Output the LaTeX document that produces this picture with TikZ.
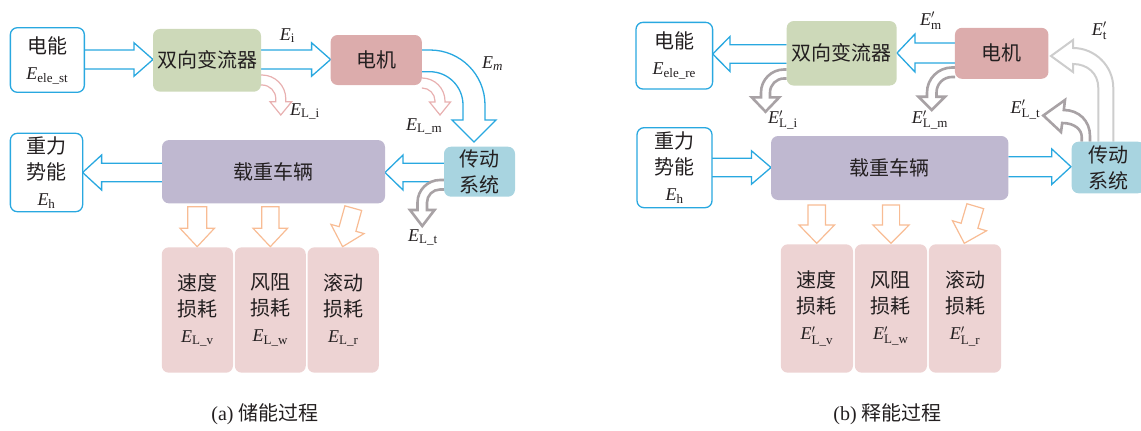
\documentclass[tikz,border=0pt]{standalone}
\usepackage{fontspec}
\setmainfont{Liberation Serif}
\newfontfamily\cjk{Noto Sans CJK SC}
\definecolor{bl}{RGB}{41,168,224}
\definecolor{grn}{RGB}{205,217,185}
\definecolor{mot}{RGB}{220,172,172}
\definecolor{veh}{RGB}{191,184,208}
\definecolor{trn}{RGB}{168,212,224}
\definecolor{los}{RGB}{237,211,211}
\definecolor{pk}{RGB}{232,176,176}
\definecolor{org}{RGB}{248,188,148}
\definecolor{gr}{RGB}{168,162,165}
\definecolor{lgr}{RGB}{205,205,205}
\definecolor{txt}{RGB}{35,31,32}
\newcommand\zh[1]{{\cjk #1}}
\newcommand\sbs[1]{\textrm{\fontsize{13}{13}\selectfont #1}}
\newcommand\sbi[1]{\textit{\fontsize{13}{13}\selectfont #1}}
\newcommand\Es[1]{{\fontsize{18}{26}\selectfont\textit{E}$_{\sbs{#1}}$}}
\newcommand\Ep[1]{{\fontsize{18}{26}\selectfont\textit{E}$'_{\sbs{#1}}$}}
\newcommand\harr[7]{\draw[#1] (#2,#5-#6) -- (#3,#5-#6) -- (#3,#5-#7) -- (#4,#5) -- (#3,#5+#7) -- (#3,#5+#6) -- (#2,#5+#6);}
\newcommand\varr[7]{\draw[#1] (#2-#6,#3) -- (#2-#6,#4) -- (#2-#7,#4) -- (#2,#5) -- (#2+#7,#4) -- (#2+#6,#4) -- (#2+#6,#3) -- cycle;}
\tikzset{
 bluebox/.style={draw=bl, line width=1.3pt, fill=white, rounded corners=7pt, inner sep=0pt, align=center, text=txt},
 fillbox/.style={fill=#1, rounded corners=7pt, inner sep=0pt, align=center, text=txt},
 barrow/.style={draw=bl, line width=1.3pt, fill=white},
 parrow/.style={draw=pk, line width=1.2pt, fill=white},
 oarrow/.style={draw=org, line width=1.2pt, fill=white},
 garrow/.style={draw=gr, line width=2.6pt, fill=white},
 lgarrow/.style={draw=lgr, line width=2pt, fill=white},
 lbl/.style={text=txt, inner sep=0pt, anchor=base west, font=\fontsize{18}{22}\selectfont},
 captext/.style={text=txt, inner sep=0pt, font=\fontsize{20}{24}\selectfont},
}
\begin{document}
\begin{tikzpicture}[x=1pt,y=-1pt, every node/.style={font=\fontsize{20}{26}\selectfont}]
\useasboundingbox (0,0) rectangle (1141,431);

% ---------------- (a) ----------------
\harr{barrow}{84.4}{134}{153}{59.5}{9.5}{16.7}
\harr{barrow}{261}{311.6}{330.6}{59.5}{9.5}{16.7}
\harr{barrow}{444}{403}{385}{172.5}{9.2}{17.5}
\harr{barrow}{162}{101.6}{82.6}{172.5}{9.2}{17.5}
% big blue curved arrow motor -> transmission
\draw[barrow] (421.8,50) -- (430,50) .. controls (460.4,50) and (485,74.6) .. (485,105) -- (485,120) -- (496,120) -- (474,142) -- (452,120) -- (463,120) -- (463,105) .. controls (463,86.6) and (448.1,71.7) .. (429.7,71.7) -- (421.8,71.7);
% pink loss arrows
\draw[parrow] (261,75) -- (262,75) .. controls (275.1,75) and (285.8,85.7) .. (285.8,98.8) -- (285.8,101.7) -- (291.7,101.7) -- (280.8,115) -- (270,101.7) -- (275.8,101.7) -- (275.8,98.8) .. controls (275.8,91.2) and (269.6,85) .. (262,85) -- (261,85);
\draw[parrow] (421.8,78) -- (422,78) .. controls (434.7,78) and (445,88.3) .. (445,101) -- (445,102) -- (450.5,102) -- (440,115) -- (429.5,102) -- (435,102) -- (435,101) .. controls (435,93.8) and (429.2,88) .. (422,88) -- (421.8,88);
% gray loss arrow from transmission
\draw[garrow] (444,180) -- (440,180) .. controls (427.6,180) and (417.5,190.1) .. (417.5,202.5) -- (417.5,210) -- (410,210) -- (422.25,226) -- (434.5,210) -- (427,210) -- (427,202.5) .. controls (427,195.3) and (432.8,189.5) .. (440,189.5) -- (444,189.5);
% orange arrows
\varr{oarrow}{197.2}{206.7}{228.3}{246.7}{9.45}{17.2}
\varr{oarrow}{270.3}{206.7}{228.3}{246.7}{8.65}{17.25}
\begin{scope}[shift={(342.6,246.7)}, rotate=-15.5]
\varr{oarrow}{0}{-40}{-18.4}{0}{8.7}{17.2}
\end{scope}

\node[bluebox, minimum width=74pt, minimum height=64.6pt] (eL) at (47.35,60) {\zh{电能}\\\Es{ele\_st}};
\node[fillbox=grn, minimum width=108pt, minimum height=62.7pt] (cL) at (207,60.3) {\zh{双向变流器}};
\node[fillbox=mot, minimum width=91.2pt, minimum height=50pt] (mL) at (376.2,60) {\zh{电机}};
\node[fillbox=veh, minimum width=223pt, minimum height=63.3pt] (vL) at (273.5,171.7) {\zh{载重车辆}};
\node[fillbox=trn, minimum width=71pt, minimum height=50pt] (tL) at (479.5,171.7) {\zh{传动}\\\zh{系统}};
\node[bluebox, minimum width=72.3pt, minimum height=78.4pt] (gL) at (46.5,172.5) {\zh{重力}\\\zh{势能}\\\Es{h}};
\node[fillbox=los, minimum width=71.2pt, minimum height=125.4pt] (l1L) at (197.4,310) {\zh{速度}\\\zh{损耗}\\\Es{L\_v}};
\node[fillbox=los, minimum width=71pt, minimum height=125.4pt] (l2L) at (270.3,310) {\zh{风阻}\\\zh{损耗}\\\Es{L\_w}};
\node[fillbox=los, minimum width=71.3pt, minimum height=125.4pt] (l3L) at (343.2,310) {\zh{滚动}\\\zh{损耗}\\\Es{L\_r}};

\node[lbl] (EiL) at (279.6,40) {\textit{E}$_{\sbs{i}}$};
\node[lbl] (EmL) at (482,68) {\textit{E}$_{\sbi{m}}$};
\node[lbl] (ELiL) at (290,115) {\textit{E}$_{\sbs{L\_i}}$};
\node[lbl] (ELmL) at (406,130) {\textit{E}$_{\sbs{L\_m}}$};
\node[lbl] (ELtL) at (408,241) {\textit{E}$_{\sbs{L\_t}}$};
\node[captext] (capa) at (265,414) {(a) \zh{储能过程}};

% ---------------- (b) ----------------
\harr{barrow}{955}{915}{897}{53}{10}{19}
\harr{barrow}{786.7}{730}{712.7}{54}{9.2}{17.5}
\harr{barrow}{712}{751.5}{771}{167.5}{9.2}{16.7}
\harr{barrow}{1008.3}{1051.7}{1071}{166.7}{10}{17.8}
% light gray arrow transmission -> motor
\draw[lgarrow] (1098.3,141.7) -- (1098.3,88) .. controls (1098.3,73) and (1087,64) .. (1073,64) -- (1073,72) -- (1051,56) -- (1073,40) -- (1073,48) .. controls (1095,48) and (1113.3,66) .. (1113.3,88) -- (1113.3,141.7);
% gray loss arrows
\draw[garrow] (786.7,69.5) -- (784,69.5) .. controls (771.3,69.5) and (761,79.8) .. (761,92.5) -- (761,97.3) -- (751.7,97.3) -- (765.5,111.7) -- (779.3,97.3) -- (770,97.3) -- (770,92.5) .. controls (770,84.8) and (776.3,78.5) .. (784,78.5) -- (786.7,78.5);
\draw[garrow] (955,67.5) -- (952,67.5) .. controls (938.2,67.5) and (927,78.7) .. (927,92.5) -- (927,96.7) -- (918.5,96.7) -- (931.75,110) -- (945,96.7) -- (936.5,96.7) -- (936.5,92.5) .. controls (936.5,83.9) and (943.4,77) .. (952,77) -- (955,77);
\draw[garrow] (1090,141.7) -- (1090,136) .. controls (1090,121) and (1079,110) .. (1063.8,110) -- (1065,100) -- (1043.3,115.5) -- (1061,132) -- (1062.2,123) .. controls (1075,123) and (1081.7,130) .. (1081.7,136.7) -- (1081.7,141.7);
% orange arrows
\varr{oarrow}{816.75}{205}{225}{243.3}{8.75}{17.75}
\varr{oarrow}{891}{205}{225}{243.3}{8.6}{18.1}
\begin{scope}[shift={(964.3,243.3)}, rotate=-16.5]
\varr{oarrow}{0}{-38.7}{-18.3}{0}{8.75}{17.75}
\end{scope}

\node[bluebox, minimum width=76.6pt, minimum height=66.7pt] (eR) at (674.3,55.7) {\zh{电能}\\\Es{ele\_re}};
\node[fillbox=grn, minimum width=110pt, minimum height=64.5pt] (cR) at (841.7,53.3) {\zh{双向变流器}};
\node[fillbox=mot, minimum width=93.5pt, minimum height=51pt] (mR) at (1001.7,53.3) {\zh{电机}};
\node[bluebox, minimum width=75pt, minimum height=80pt] (gR) at (674.5,167.7) {\zh{重力}\\\zh{势能}\\\Es{h}};
\node[fillbox=veh, minimum width=237.3pt, minimum height=64pt] (vR) at (889.7,168) {\zh{载重车辆}};
\node[fillbox=trn, minimum width=73.3pt, minimum height=51.6pt] (tR) at (1108.3,167.5) {\zh{传动}\\\zh{系统}};
\node[fillbox=los, minimum width=72.2pt, minimum height=128.4pt] (l1R) at (816.9,308.5) {\zh{速度}\\\zh{损耗}\\\Ep{L\_v}};
\node[fillbox=los, minimum width=72.2pt, minimum height=128.4pt] (l2R) at (890.9,308.5) {\zh{风阻}\\\zh{损耗}\\\Ep{L\_w}};
\node[fillbox=los, minimum width=72.3pt, minimum height=128.4pt] (l3R) at (965,308.5) {\zh{滚动}\\\zh{损耗}\\\Ep{L\_r}};

\node[lbl] (EmR) at (920,25) {\textit{E}$'_{\sbs{m}}$};
\node[lbl] (EtR) at (1091.7,35) {\textit{E}$'_{\sbs{t}}$};
\node[lbl] (ELiR) at (768,123.3) {\textit{E}$'_{\sbs{L\_i}}$};
\node[lbl] (ELmR) at (911.7,123.3) {\textit{E}$'_{\sbs{L\_m}}$};
\node[lbl] (ELtR) at (1010.5,113) {\textit{E}$'_{\sbs{L\_t}}$};
\node[captext] (capb) at (887.5,414) {(b) \zh{释能过程}};
\end{tikzpicture}
\end{document}
